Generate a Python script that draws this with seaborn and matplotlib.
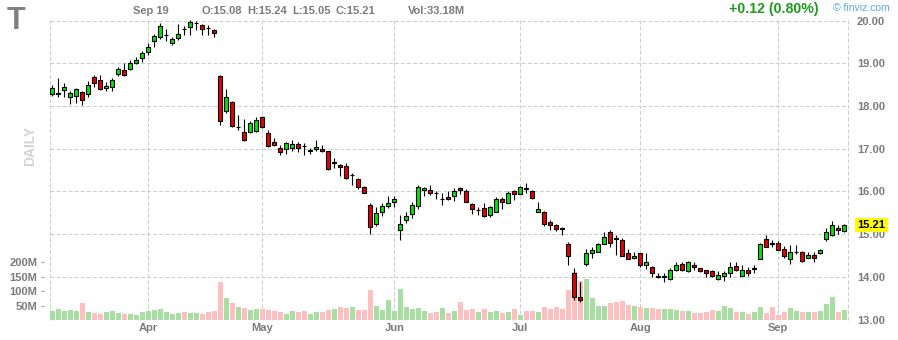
import numpy as np
import pandas as pd
import matplotlib
matplotlib.use("Agg")
import matplotlib.pyplot as plt
import matplotlib.transforms as mtransforms
import seaborn as sns

# ---------------- data (AT&T daily, Mar 10 - Sep 19 2023) ----------------
holidays = ["2023-04-07", "2023-05-29", "2023-06-19", "2023-07-04", "2023-09-04"]
dates = pd.bdate_range("2023-03-10", "2023-09-19", freq="C", holidays=holidays)

opens = [18.29, 18.29, 18.38, 18.21, 18.23, 18.33, 18.29, 18.68, 18.61, 18.43,
         18.45, 18.75, 18.85, 18.87, 19.00, 19.13, 19.26, 19.52, 19.62, 19.66,
         19.48, 19.59, 19.81, 19.85, 19.94, 19.90, 19.84, 19.78, 18.71, 17.88,
         18.10, 17.50, 17.40, 17.39, 17.42, 17.75, 17.38, 17.17, 17.02, 16.99,
         17.02, 17.12, 17.07, 16.96, 17.00, 17.00, 16.94, 16.67, 16.61, 16.60,
         16.38, 16.29, 16.11, 15.69, 15.25, 15.51, 15.66, 15.76, 15.09, 15.34,
         15.48, 15.65, 16.04, 16.03, 15.97, 15.82, 15.88, 15.89, 16.09, 16.00,
         15.70, 15.56, 15.62, 15.46, 15.53, 15.82, 15.74, 16.00, 15.95, 16.08,
         16.00, 15.53, 15.51, 15.28, 15.22, 15.14, 14.78, 14.10, 13.52, 14.31,
         14.57, 14.59, 14.78, 15.06, 14.90, 14.87, 14.57, 14.45, 14.55, 14.29,
         14.22, 14.03, 14.00, 13.94, 14.15, 14.31, 14.13, 14.29, 14.20, 14.16,
         14.13, 13.96, 14.01, 14.08, 14.25, 14.03, 14.15, 14.19, 14.43, 14.88,
         14.79, 14.80, 14.65, 14.43, 14.58, 14.59, 14.45, 14.52, 14.55, 14.89,
         14.99, 15.15, 15.08]
highs = [18.49, 18.67, 18.54, 18.36, 18.43, 18.36, 18.60, 18.74, 18.74, 18.56,
         18.66, 18.92, 19.00, 19.07, 19.14, 19.28, 19.47, 19.70, 19.95, 19.81,
         19.61, 19.92, 19.87, 20.01, 20.00, 19.92, 19.89, 19.81, 18.74, 18.41,
         18.13, 17.79, 17.69, 17.64, 17.75, 17.77, 17.45, 17.26, 17.10, 17.17,
         17.20, 17.15, 17.14, 17.01, 17.20, 17.10, 16.96, 16.78, 16.65, 16.66,
         16.43, 16.31, 16.14, 15.72, 15.64, 15.72, 15.89, 15.89, 15.44, 15.51,
         15.76, 16.15, 16.11, 16.15, 16.01, 15.97, 16.00, 16.08, 16.11, 16.06,
         15.73, 15.63, 15.72, 15.65, 15.87, 15.86, 16.00, 16.03, 16.14, 16.21,
         16.03, 15.75, 15.54, 15.34, 15.24, 15.16, 14.81, 14.20, 13.88, 14.65,
         14.69, 14.80, 15.05, 15.10, 14.97, 14.92, 14.66, 14.59, 14.57, 14.55,
         14.25, 14.10, 14.08, 14.20, 14.34, 14.34, 14.38, 14.35, 14.21, 14.17,
         14.15, 14.13, 14.13, 14.34, 14.34, 14.27, 14.22, 14.27, 14.80, 14.99,
         14.87, 14.85, 14.73, 14.74, 14.74, 14.60, 14.58, 14.58, 14.66, 15.15,
         15.30, 15.22, 15.24]
lows = [18.23, 18.22, 18.21, 18.04, 18.07, 18.02, 18.21, 18.45, 18.37, 18.35,
        18.35, 18.70, 18.71, 18.84, 18.98, 19.03, 19.19, 19.38, 19.58, 19.52,
        19.42, 19.56, 19.66, 19.66, 19.78, 19.66, 19.67, 19.61, 17.55, 17.83,
        17.51, 17.45, 17.18, 17.37, 17.39, 17.48, 17.04, 17.06, 16.85, 16.87,
        16.95, 16.92, 16.85, 16.88, 16.95, 16.93, 16.50, 16.54, 16.36, 16.30,
        16.15, 16.07, 15.96, 15.00, 15.19, 15.43, 15.62, 15.64, 14.87, 15.26,
        15.37, 15.58, 15.90, 15.91, 15.83, 15.69, 15.80, 15.78, 15.95, 15.75,
        15.47, 15.45, 15.40, 15.40, 15.51, 15.59, 15.72, 15.81, 15.93, 15.97,
        15.83, 15.51, 15.20, 15.10, 15.08, 14.99, 14.28, 13.47, 13.42, 14.26,
        14.45, 14.58, 14.76, 14.70, 14.51, 14.49, 14.42, 14.41, 14.24, 14.19,
        14.00, 13.98, 13.88, 13.93, 14.14, 14.14, 14.11, 14.17, 14.12, 14.00,
        13.99, 13.93, 13.91, 14.00, 14.13, 14.02, 14.02, 14.10, 14.42, 14.69,
        14.69, 14.62, 14.44, 14.30, 14.53, 14.36, 14.44, 14.35, 14.53, 14.85,
        14.95, 15.01, 15.05]
closes = [18.43, 18.30, 18.45, 18.31, 18.40, 18.15, 18.50, 18.54, 18.40, 18.48,
          18.61, 18.87, 18.73, 19.01, 19.09, 19.24, 19.38, 19.65, 19.88, 19.67,
          19.57, 19.69, 19.80, 19.97, 19.95, 19.81, 19.83, 19.71, 17.65, 18.22,
          17.54, 17.51, 17.20, 17.61, 17.68, 17.50, 17.06, 17.10, 16.93, 17.14,
          17.12, 17.02, 17.06, 16.97, 17.05, 16.95, 16.53, 16.68, 16.57, 16.32,
          16.39, 16.11, 15.97, 15.16, 15.50, 15.65, 15.74, 15.83, 15.23, 15.42,
          15.69, 16.11, 16.09, 15.97, 15.96, 15.83, 15.83, 16.02, 16.04, 15.76,
          15.60, 15.57, 15.43, 15.63, 15.83, 15.76, 15.97, 15.95, 16.11, 16.07,
          15.85, 15.60, 15.25, 15.22, 15.11, 15.13, 14.50, 13.52, 13.45, 14.57,
          14.64, 14.76, 14.94, 14.79, 14.89, 14.50, 14.43, 14.50, 14.29, 14.34,
          14.08, 13.99, 14.01, 14.17, 14.27, 14.15, 14.36, 14.24, 14.13, 14.09,
          14.02, 14.04, 14.10, 14.24, 14.16, 14.15, 14.10, 14.20, 14.76, 14.70,
          14.78, 14.64, 14.48, 14.59, 14.59, 14.38, 14.51, 14.45, 14.62, 15.04,
          15.22, 15.09, 15.21]
volume_m = [32, 38, 31, 35, 31, 59, 28, 24, 21, 28,
            31, 24, 21, 21, 17, 28, 31, 35, 38, 28,
            21, 24, 28, 24, 24, 21, 28, 31, 132, 76,
            59, 45, 42, 35, 38, 38, 35, 31, 28, 21,
            31, 28, 31, 21, 28, 28, 35, 38, 45, 42,
            45, 35, 35, 104, 49, 35, 69, 31, 107, 45,
            38, 42, 31, 24, 28, 42, 24, 31, 62, 35,
            38, 28, 38, 28, 31, 24, 28, 38, 17, 31,
            31, 28, 45, 38, 45, 38, 104, 165, 135, 142,
            76, 49, 49, 59, 62, 66, 52, 49, 45, 42,
            42, 38, 38, 38, 35, 31, 31, 24, 24, 28,
            35, 31, 49, 42, 28, 28, 21, 28, 45, 24,
            45, 17, 28, 42, 31, 28, 28, 28, 31, 55,
            80, 28, 33.18]

ticker = "T"
price_ticks = [13, 14, 15, 16, 17, 18, 19, 20]
volume_ticks = [50, 100, 150, 200]

# ---------------- figure geometry ----------------
W, H = 898, 340
sns.set_theme(style="white")
plt.rcParams["font.family"] = ["Liberation Sans", "DejaVu Sans"]

fig = plt.figure(figsize=(W / 100, H / 100), dpi=100)
fig.patch.set_facecolor("white")


def fx(px):
    return px / W


def fy(py):
    return 1 - py / H


n = len(closes)
o = np.array(opens)
h = np.array(highs)
l = np.array(lows)
c = np.array(closes)
x = np.arange(n)
up = c >= o

left_px, right_px, top_px, bot_px = 50, 848, 18.6, 320
rect = [fx(left_px), fy(bot_px), (right_px - left_px) / W, (bot_px - top_px) / H]
x_lo, x_hi = -0.39, n - 0.39
y_lo, y_hi = 12.99, 20.05
vmax = (bot_px - top_px) / 0.2887

grid_c = "#cdcdcd"
dash = (0, (3.8, 2.0))
label_c = "#7b7b7b"

ax_g = fig.add_axes(rect)
ax_v = fig.add_axes(rect)
ax_c = fig.add_axes(rect)

# ---- grid / price axis ----
ax_g.set_xlim(x_lo, x_hi)
ax_g.set_ylim(y_lo, y_hi)
for s in ax_g.spines.values():
    s.set_visible(False)
ax_g.yaxis.tick_right()
ax_g.set_yticks(price_ticks)
ax_g.set_yticklabels([f"{v:.2f}" for v in price_ticks])
ax_g.tick_params(axis="y", length=0, pad=6.3, labelsize=8, labelcolor=label_c)
month_pos = [i for i in range(1, n) if dates[i].month != dates[i - 1].month]
ax_g.set_xticks(month_pos)
ax_g.set_xticklabels([dates[i].strftime("%b") for i in month_pos])
ax_g.tick_params(axis="x", length=0, pad=2.5, labelsize=8, labelcolor=label_c)
for t in ax_g.get_xticklabels() + ax_g.get_yticklabels():
    t.set_fontweight("bold")
ax_g.grid(True, color=grid_c, lw=0.75, linestyle=dash)
for xv in (x_lo, x_hi):
    ax_g.axvline(xv, color=grid_c, lw=0.75, linestyle=dash, clip_on=False)

# ---- volume ----
vdf = pd.DataFrame({"day": x, "vol": volume_m,
                    "dir": np.where(up, "up", "down")})
sns.barplot(data=vdf, x="day", y="vol", hue="dir",
            palette={"up": "#a9dea3", "down": "#fdbfbf"},
            dodge=False, native_scale=True, width=0.83, errorbar=None,
            legend=False, saturation=1, linewidth=0, ax=ax_v)
ax_v.set_xlim(x_lo, x_hi)
ax_v.set_ylim(0, vmax)
ax_v.patch.set_visible(False)
ax_v.set_xlabel("")
ax_v.set_ylabel("")
ax_v.set_xticks([])
ax_v.spines["left"].set_position(("outward", 4))
for s in ax_v.spines.values():
    s.set_visible(False)
ax_v.yaxis.tick_left()
ax_v.set_yticks(volume_ticks)
ax_v.set_yticklabels([f"{v}M" for v in volume_ticks])
ax_v.tick_params(axis="y", length=2.2, width=0.75, color="#a0a0a0", pad=2.9,
                 labelsize=8, labelcolor=label_c, left=True)
for t in ax_v.get_yticklabels():
    t.set_fontweight("bold")

# ---- candles ----
ax_c.set_xlim(x_lo, x_hi)
ax_c.set_ylim(y_lo, y_hi)
ax_c.axis("off")
ax_c.vlines(x, l, h, color="black", lw=0.8, zorder=1)
body_lo = np.minimum(o, c)
body_h = np.maximum(np.abs(c - o), 0.002)
ax_c.bar(x, body_h, bottom=body_lo, width=0.62,
         color=np.where(up, "#00e600", "#e60000"),
         edgecolor="black", linewidth=0.8, zorder=2)

# last price marker
trans = mtransforms.blended_transform_factory(ax_c.transAxes, ax_c.transData)
ax_c.text(1 + 9.5 / (right_px - left_px), closes[-1], f"{closes[-1]:.2f}",
          transform=trans, ha="left", va="center", fontsize=8,
          fontweight="bold", color="black",
          bbox=dict(facecolor="#ffff00", edgecolor="none", pad=1.6))

# ---------------- header ----------------
fig.text(fx(7), fy(29), ticker, fontsize=22, fontweight="bold",
         color="#808080", va="baseline", ha="left")
hdr = [(133, dates[-1].strftime("%b %d").replace(" 0", " ")),
       (201, f"O:{opens[-1]:.2f}"), (247, f"H:{highs[-1]:.2f}"),
       (292, f"L:{lows[-1]:.2f}"), (335, f"C:{closes[-1]:.2f}"),
       (408, f"Vol:{volume_m[-1]:.2f}M")]
for px, s in hdr:
    fig.text(fx(px), fy(14), s, fontsize=8, fontweight="bold",
             color=label_c, va="baseline", ha="left")
chg = closes[-1] - closes[-2]
pct = chg / closes[-2] * 100
fig.text(fx(729), fy(13.5), f"{chg:+.2f} ({pct:.2f}%)", fontsize=10.2,
         fontweight="bold", color="#1f9a1f", va="baseline", ha="left")
fig.text(fx(833), fy(11), "\u00a9 finviz.com", fontsize=7.5,
         color="#5aaae0", va="baseline", ha="left")
fig.text(fx(30), fy(146), "DAILY", fontsize=10, fontweight="bold",
         color="#d4d4d4", rotation=90, va="center", ha="center")

fig.savefig("out.png", dpi=100)
